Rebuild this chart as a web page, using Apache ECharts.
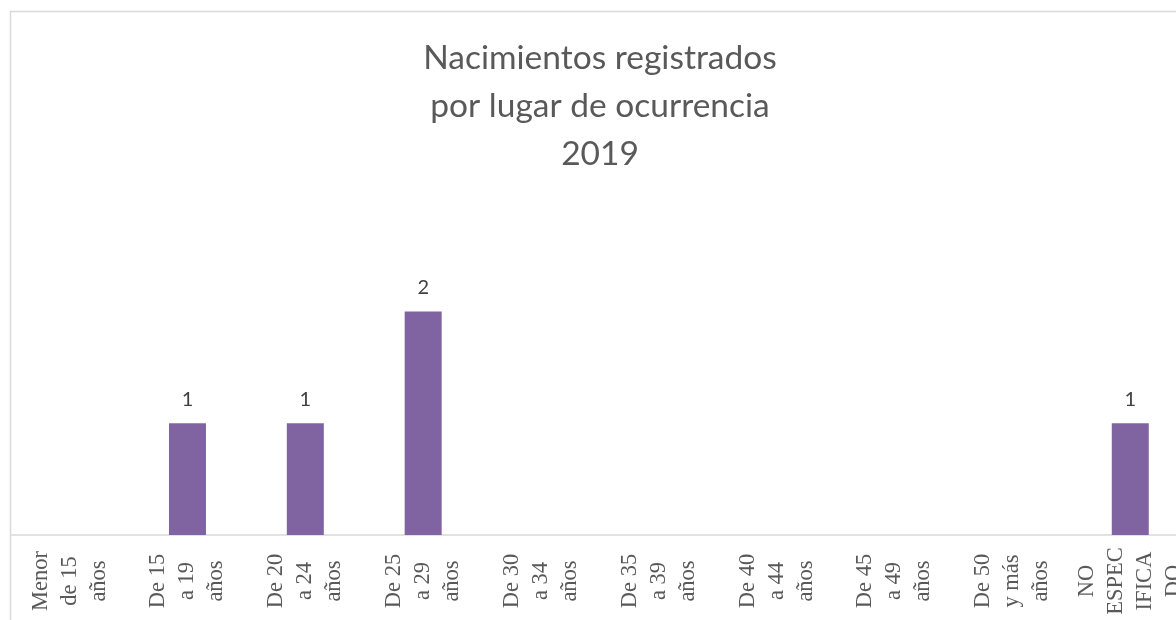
<!DOCTYPE html>
<html lang="es">
<head>
  <meta charset="utf-8" />
  <title>Nacimientos registrados 2019</title>
  <style>
    html, body { margin: 0; padding: 0; background: #fff; }
    #chart { width: 1176px; height: 620px; }
  </style>
  <script src="https://cdn.jsdelivr.net/npm/echarts@6/dist/echarts.min.js"></script>
</head>
<body>
  <div id="chart"></div>
<script type="text/javascript">
  // age groups, wrapped the way the original labels are
  var categories = [
    'Menor\nde 15\naños',
    'De 15\na 19\naños',
    'De 20\na 24\naños',
    'De 25\na 29\naños',
    'De 30\na 34\naños',
    'De 35\na 39\naños',
    'De 40\na 44\naños',
    'De 45\na 49\naños',
    'De 50\ny más\naños',
    'NO\nESPEC\nIFICA\nDO'
  ];
  // births per group (blank groups left empty)
  var births = [null, 1, 1, 2, null, null, null, null, null, 1];
  var titleLines = ['Nacimientos registrados', 'por lugar de ocurrencia', '2019'];

  var chart = echarts.init(document.getElementById('chart'));

  var option = {
    animation: false,
    backgroundColor: '#ffffff',
    title: {
      text: titleLines.join('\n'),
      left: 595,
      top: 29,
      textAlign: 'center',
      textStyle: {
        fontFamily: 'Lato',
        fontWeight: 'normal',
        fontSize: 33.5,
        lineHeight: 48,
        color: '#595959'
      }
    },
    graphic: [{
      type: 'rect',
      shape: { x: 10.5, y: 11.5, width: 1200, height: 700 },
      style: { fill: 'none', stroke: '#d9d9d9', lineWidth: 1.5 },
      silent: true,
      z: -1
    }],
    grid: {
      left: 10.7,
      width: 1178.5,
      top: 88,
      bottom: 85,
      containLabel: false,
      outerBoundsMode: 'none'
    },
    xAxis: {
      type: 'category',
      data: categories,
      axisLine: { show: true, lineStyle: { color: '#d9d9d9', width: 1.5 } },
      axisTick: { show: false },
      axisLabel: {
        interval: 0,
        rotate: 90,
        align: 'center',
        verticalAlign: 'middle',
        margin: 46,
        fontFamily: 'Liberation Serif',
        fontSize: 22.5,
        lineHeight: 29,
        color: '#595959'
      }
    },
    yAxis: {
      type: 'value',
      min: 0,
      max: 4,
      show: false,
      splitLine: { show: false }
    },
    series: [{
      type: 'bar',
      data: births,
      barWidth: 37,
      itemStyle: { color: '#8064a2' },
      label: {
        show: true,
        position: 'top',
        distance: 14,
        fontFamily: 'Lato',
        fontSize: 20,
        color: '#404040'
      }
    }]
  };
  chart.setOption(option);
</script>
</body>
</html>
